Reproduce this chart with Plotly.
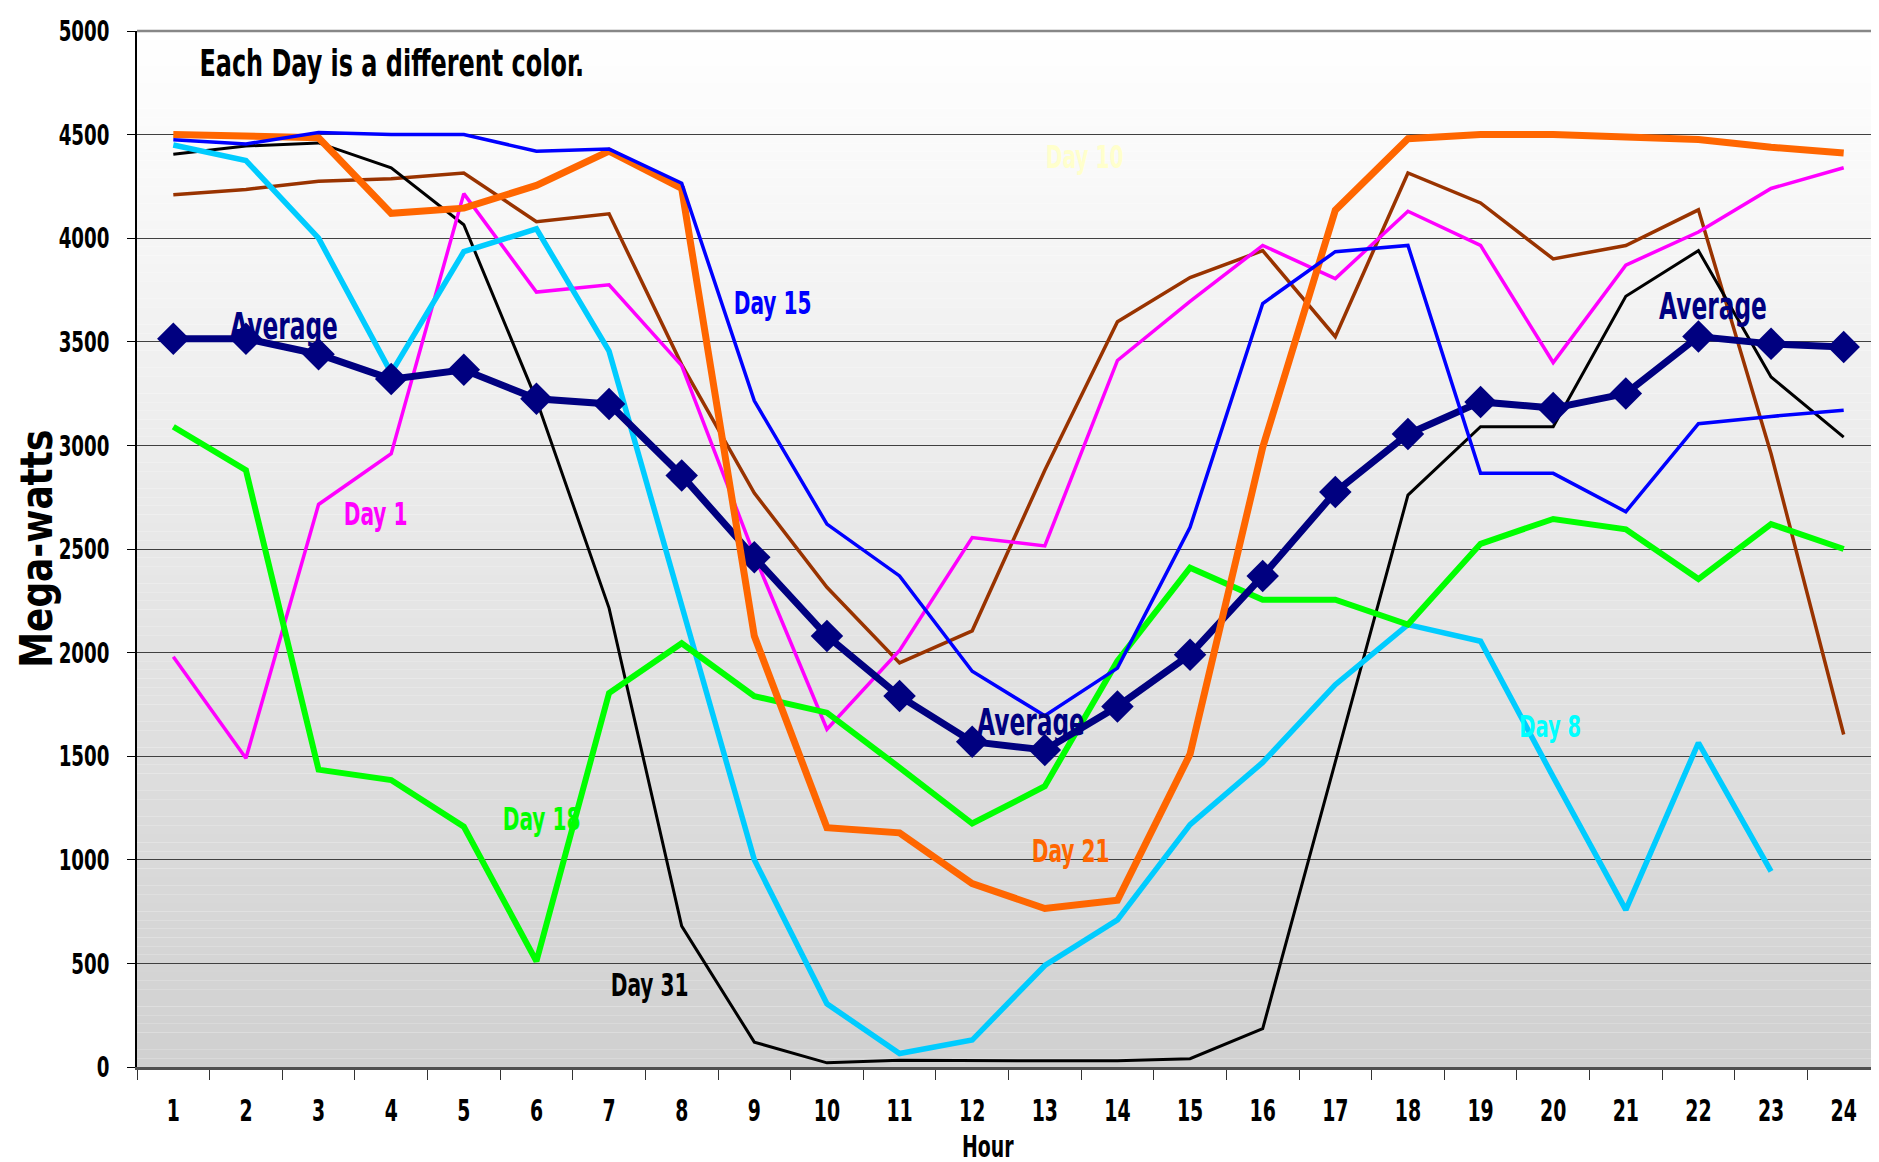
import plotly.graph_objects as go

# ---------------- data ----------------
HOURS = list(range(1, 25))

AVERAGE = [3515, 3515, 3440, 3320, 3365, 3225, 3200, 2855, 2460, 2080, 1790, 1570,
           1530, 1740, 1990, 2370, 2775, 3055, 3210, 3180, 3250, 3525, 3490, 3475]
DAY_1 = [1980, 1490, 2715, 2960, 4215, 3740, 3775, 3385, 2470, 1630, 2010, 2555,
         2515, 3410, 3695, 3965, 3805, 4130, 3965, 3400, 3870, 4030, 4240, 4340]
DAY_8 = [4450, 4375, 4000, 3350, 3935, 4045, 3455, 2230, 1000, 305, 65, 130,
         490, 710, 1170, 1470, 1845, 2135, 2055, 1400, 758, 1565, 944, None]
DAY_15 = [4475, 4455, 4510, 4500, 4500, 4420, 4430, 4265, 3215, 2620, 2370, 1910,
          1695, 1925, 2605, 3685, 3935, 3965, 2865, 2865, 2680, 3105, 3140, 3170]
DAY_18 = [3090, 2880, 1435, 1385, 1160, 510, 1805, 2045, 1790, 1710, 1445, 1175,
          1355, 1960, 2410, 2255, 2255, 2135, 2525, 2645, 2595, 2355, 2620, 2500]
DAY_21 = [4500, 4495, 4485, 4120, 4145, 4255, 4420, 4240, 2080, 1155, 1130, 885,
          765, 805, 1510, 2990, 4135, 4480, 4500, 4500, 4487, 4476, 4439, 4411]
DAY_31 = [4405, 4445, 4460, 4340, 4065, 3220, 2215, 680, 120, 20, 32, 30,
          30, 30, 40, 185, 1470, 2760, 3090, 3090, 3720, 3940, 3330, 3040]
DAY_OTHER = [4210, 4235, 4275, 4287, 4315, 4080, 4118, 3390, 2770, 2315, 1950, 2105,
             2880, 3597, 3810, 3940, 3525, 4315, 4170, 3900, 3965, 4137, 2960, 1605]

Y_TICKS = list(range(0, 5001, 500))
X_TICK_LABELS = [str(h) for h in HOURS]

TITLE_NOTE = "Each Day is a different color."
X_TITLE = "Hour"
Y_TITLE = "Mega-watts"

# ---------------- styles ----------------
NARROW = "DejaVu Sans Condensed, DejaVu Sans, sans-serif"

series = [
    ("Other day", DAY_OTHER, "#993300", 3.5),
    ("Day 31", DAY_31, "#000000", 3),
    ("Day 1", DAY_1, "#ff00ff", 3.5),
    ("Day 8", DAY_8, "#00ccff", 5.5),
    ("Day 18", DAY_18, "#00ff00", 6),
]

fig = go.Figure()

# gradient background of the plot area
N_BANDS = 120
top_c, bot_c = 255, 208
for i in range(N_BANDS):
    f = (i + 0.5) / N_BANDS  # 0 at bottom
    c = round(bot_c + (top_c - bot_c) * f)
    fig.add_shape(type="rect", xref="x domain", yref="y domain",
                  x0=0, x1=1, y0=i / N_BANDS, y1=(i + 1) / N_BANDS,
                  fillcolor=f"rgb({c},{c},{c})", line=dict(width=0), layer="below")

for name, vals, color, width in series:
    fig.add_trace(go.Scatter(x=HOURS, y=vals, mode="lines", name=name,
                             line=dict(color=color, width=width)))

fig.add_trace(go.Scatter(x=HOURS, y=AVERAGE, mode="lines+markers", name="Average",
                         line=dict(color="#000080", width=7),
                         marker=dict(symbol="diamond", size=25, color="#000080",
                                     line=dict(width=0))))
fig.add_trace(go.Scatter(x=HOURS, y=DAY_21, mode="lines", name="Day 21",
                         line=dict(color="#ff6600", width=7)))
fig.add_trace(go.Scatter(x=HOURS, y=DAY_15, mode="lines", name="Day 15",
                         line=dict(color="#0000ff", width=3.5)))

# text labels (layout positions)
labels = [
    (TITLE_NOTE, 4.0, 4845, "#000000", 38),
    ("Average", 2.52, 3576, "#000080", 37),
    ("Average", 12.81, 1665, "#000080", 37),
    ("Average", 22.2, 3668, "#000080", 37),
    ("Day 15", 9.25, 3687, "#0000ff", 32),
    ("Day 10", 13.54, 4392, "#ffffcc", 32),
    ("Day 1", 3.79, 2669, "#ff00ff", 32),
    ("Day 18", 6.07, 1197, "#00ff00", 32),
    ("Day 31", 7.56, 396, "#000000", 32),
    ("Day 21", 13.35, 1042, "#ff6600", 32),
    ("Day 8", 19.96, 1646, "#00ffff", 31),
]
for text, x, y, color, size in labels:
    fig.add_annotation(x=x, y=y, xref="x", yref="y", text=text, showarrow=False,
                       xanchor="center", yanchor="middle",
                       font=dict(family=NARROW, size=size, color=color, weight="bold"))

# axis titles
fig.add_annotation(xref="paper", yref="paper", x=-0.058, y=0.5, text=Y_TITLE,
                   textangle=-90, showarrow=False, xanchor="center", yanchor="middle",
                   font=dict(family=NARROW, size=44, color="#000000", weight="bold"))
fig.add_annotation(xref="paper", yref="paper", x=0.488, y=-0.077, text=X_TITLE,
                   showarrow=False, xanchor="center", yanchor="middle",
                   font=dict(family=NARROW, size=30, color="#000000", weight="bold"))

# top and right border
fig.add_shape(type="line", xref="x domain", yref="y domain", x0=0, x1=1, y0=1, y1=1,
              line=dict(color="#888888", width=2.5), layer="above")
fig.add_shape(type="line", xref="x domain", yref="y domain", x0=1, x1=1, y0=0, y1=1,
              line=dict(color="#888888", width=2.5), layer="above")

boundaries = [h - 0.5 for h in HOURS] + [HOURS[-1] + 0.5]

fig.update_xaxes(range=[0.5, 24.5], tickmode="array", tickvals=HOURS, ticktext=X_TICK_LABELS,
                 ticks="", showgrid=False, zeroline=False,
                 showline=True, linecolor="#505050", linewidth=3,
                 tickfont=dict(family=NARROW, size=30, color="#000000", weight="bold"),
                 ticklabelstandoff=15,
                 minor=dict(tickmode="array", tickvals=boundaries, ticks="outside",
                            ticklen=10, tickwidth=1.2, tickcolor="#333333", showgrid=False))
fig.update_yaxes(range=[0, 5000], tickmode="array", tickvals=Y_TICKS,
                 ticks="outside", ticklen=8, tickwidth=1.2, tickcolor="#000000",
                 showgrid=True, gridcolor="#404040", gridwidth=1.3, zeroline=False,
                 showline=True, linecolor="#000000", linewidth=1.5,
                 tickfont=dict(family=NARROW, size=29, color="#000000", weight="bold"),
                 ticklabelstandoff=12)

fig.update_layout(width=1879, height=1162, showlegend=False,
                  margin=dict(l=129, r=7, t=23, b=103, autoexpand=False),
                  paper_bgcolor="#ffffff", plot_bgcolor="#ffffff")

# the reference uses a tall, narrow typeface: squeeze glyphs horizontally
POST = """
var gd = document.getElementById('{plot_id}');
function squeeze(){
  var texts = gd.querySelectorAll('svg text');
  texts.forEach(function(t){
    var s = t.textContent;
    if(!s) return;
    t.removeAttribute('textLength');
    var L = t.getComputedTextLength();
    if(!L) return;
    var target = (s === 'Mega-watts') ? 238 : L * 0.70;
    t.setAttribute('lengthAdjust', 'spacingAndGlyphs');
    t.setAttribute('textLength', target.toFixed(1));
  });
}
squeeze();
gd.on('plotly_afterplot', squeeze);
"""

fig.write_html("out.html", post_script=POST)
